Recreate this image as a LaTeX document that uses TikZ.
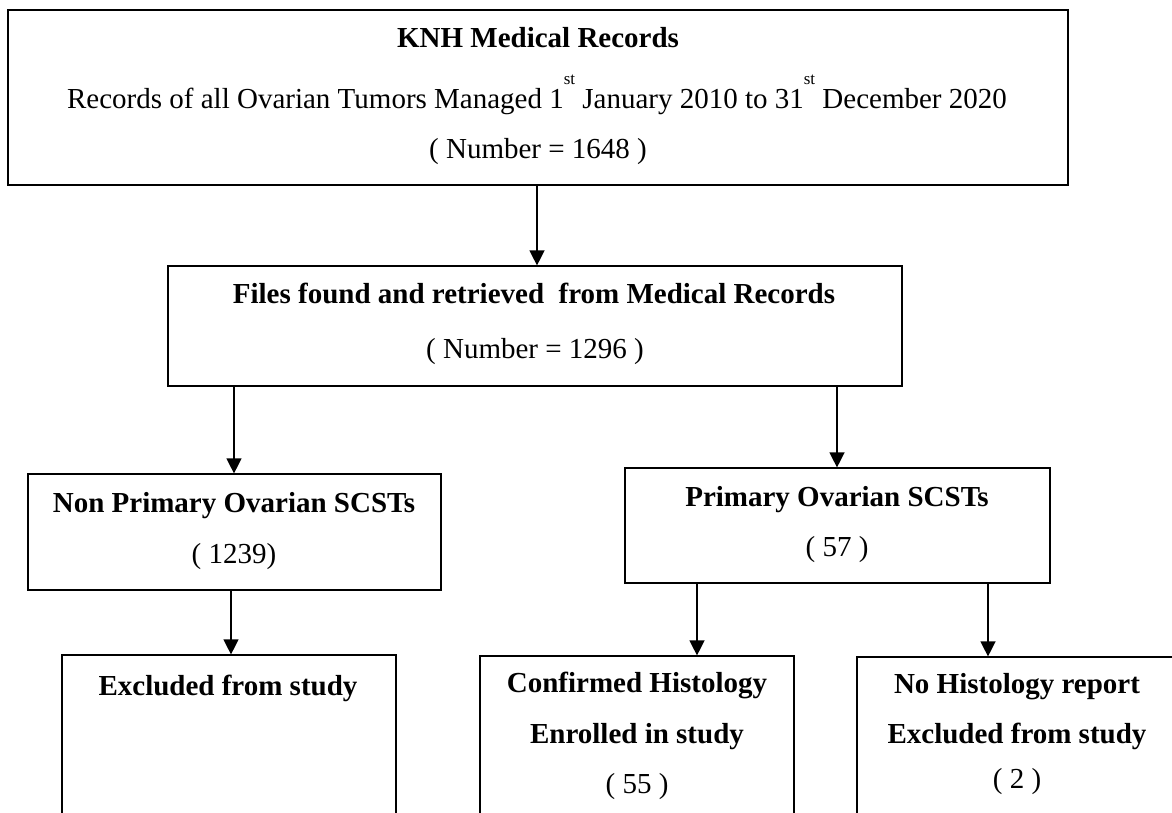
\documentclass[tikz,border=0pt]{standalone}
\usepackage{fontspec}
\setmainfont{Liberation Serif}
\usetikzlibrary{arrows.meta}
\tikzset{
  box/.style={draw, line width=1.2pt, inner sep=0pt},
  txt/.style={inner sep=0pt, anchor=base, font=\fontsize{29}{34}\selectfont},
  hd/.style={inner sep=0pt, anchor=base, font=\fontsize{29}{34}\selectfont\bfseries},
  arr/.style={-{Triangle[width=15pt,length=15pt]}, line width=1.3pt}
}
\newcommand{\supst}{\raisebox{24pt}{\fontsize{17}{17}\selectfont st}}
\begin{document}
\begin{tikzpicture}[x=1pt,y=-1pt]
\clip (0,0) rectangle (1172,812);
\fill[white] (0,0) rectangle (1172,812);
% boxes
\node[box, line width=1.4pt, minimum width=1060pt, minimum height=175pt] (b1) at (538,97.5) {};
\node[box, minimum width=734pt, minimum height=120pt] (b2) at (535,326) {};
\node[box, minimum width=413pt, minimum height=116pt] (b3) at (234.5,532) {};
\node[box, minimum width=425pt, minimum height=115pt] (b4) at (837.5,525.5) {};
\node[box, minimum width=334pt, minimum height=200pt] (b5) at (229,755) {};
\node[box, minimum width=314pt, minimum height=200pt] (b6) at (637,756) {};
\node[box, minimum width=320pt, minimum height=200pt] (b7) at (1017,757) {};
% texts
\node[hd] (t1a) at (538,47) {KNH Medical Records};
\node[txt] (t1b) at (537,108) {Records of all Ovarian Tumors Managed 1\supst{} January 2010 to 31\supst{} December 2020};
\node[txt] (t1c) at (538,158) {( Number = 1648 )};
\node[hd] (t2a) at (534,303) {Files found and retrieved\ \ from Medical Records};
\node[txt] (t2b) at (535,358) {( Number = 1296 )};
\node[hd] (t3a) at (234,512) {Non Primary Ovarian SCSTs};
\node[txt] (t3b) at (234,563) {( 1239)};
\node[hd] (t4a) at (837,506) {Primary Ovarian SCSTs};
\node[txt] (t4b) at (837,556) {( 57 )};
\node[hd] (t5a) at (228,695) {Excluded from study};
\node[hd] (t6a) at (637,692) {Confirmed Histology};
\node[hd] (t6b) at (637,743) {Enrolled in study};
\node[txt] (t6c) at (637,793) {( 55 )};
\node[hd] (t7a) at (1017,693) {No Histology report};
\node[hd] (t7b) at (1017,743) {Excluded from study};
\node[txt] (t7c) at (1017,788) {( 2 )};
% arrow columns
\coordinate (c1) at (537,0);
\coordinate (c2) at (234,0);
\coordinate (c3) at (837,0);
\coordinate (c4) at (231,0);
\coordinate (c5) at (697,0);
\coordinate (c6) at (988,0);
\draw[arr] (b1.south -| c1) -- (b2.north -| c1);
\draw[arr] (b2.south -| c2) -- (b3.north -| c2);
\draw[arr] (b2.south -| c3) -- (b4.north -| c3);
\draw[arr] (b3.south -| c4) -- (b5.north -| c4);
\draw[arr] (b4.south -| c5) -- (b6.north -| c5);
\draw[arr] (b4.south -| c6) -- (b7.north -| c6);
\end{tikzpicture}
\end{document}
